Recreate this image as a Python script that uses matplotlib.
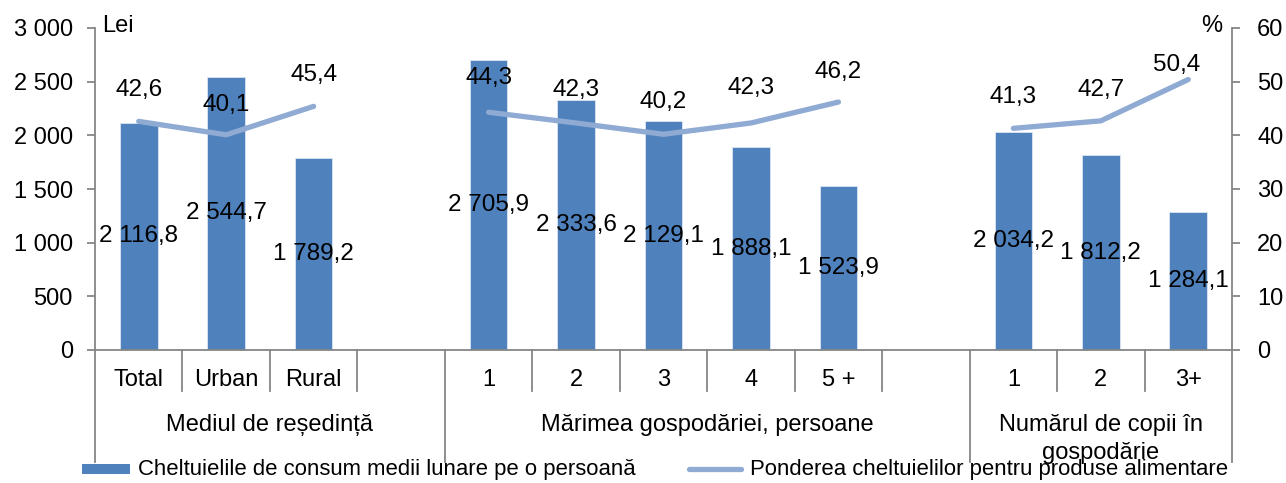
import numpy as np
import matplotlib
matplotlib.use("Agg")
import matplotlib.pyplot as plt
from matplotlib.patches import Rectangle
from matplotlib.lines import Line2D
from matplotlib.transforms import blended_transform_factory

plt.rcParams['font.family'] = ['Liberation Sans', 'DejaVu Sans']

# ---- data ----
categories = ["Total", "Urban", "Rural", "", "1", "2", "3", "4", "5 +", "", "1", "2", "3+"]
spending = [2116.8, 2544.7, 1789.2, None, 2705.9, 2333.6, 2129.1, 1888.1, 1523.9, None, 2034.2, 1812.2, 1284.1]
food_share = [42.6, 40.1, 45.4, None, 44.3, 42.3, 40.2, 42.3, 46.2, None, 41.3, 42.7, 50.4]
groups = ["Mediul de reședință", "Mărimea gospodăriei, persoane", "Numărul de copii în\ngospodărie"]
group_spans = [(0, 3), (4, 9), (10, 12)]
left_ticks = [0, 500, 1000, 1500, 2000, 2500, 3000]
right_ticks = [0, 10, 20, 30, 40, 50, 60]
legend_labels = ["Cheltuielile de consum medii lunare pe o persoană",
                 "Ponderea cheltuielilor pentru produse alimentare"]

BAR = "#4F81BD"
LINE = "#8FAAD3"
GREY = "#868686"
FS = 17
FS_LAB = 17.5
FS_LEG = 15.9

def fmt(v, dec=1):
    s = f"{v:,.{dec}f}"
    return s.replace(",", " ").replace(".", ",")

W, H = 1286, 483
fig = plt.figure(figsize=(W / 100, H / 100), dpi=100)
x0, x1, y0, y1 = 95, 1232, 350, 28
ax = fig.add_axes([x0 / W, 1 - y0 / H, (x1 - x0) / W, (y0 - y1) / H])
ax2 = ax.twinx()

n = len(categories)
x = np.arange(n)
sp = np.array([np.nan if v is None else v for v in spending])
sh = np.array([np.nan if v is None else v for v in food_share])

ax.bar(x, sp, width=0.43, color=BAR, edgecolor="#DCE6F2", linewidth=0.6, zorder=2)
ax2.plot(x, sh, color=LINE, lw=3.8, solid_capstyle="round", zorder=3)

ax.set_xlim(-0.5, n - 0.5)
ax.set_ylim(0, 3000)
ax2.set_ylim(0, 60)

for a in (ax, ax2):
    a.spines["top"].set_visible(False)
    a.spines["bottom"].set_visible(False)
ax.spines["right"].set_visible(False)
ax2.spines["left"].set_visible(False)
ax.spines["left"].set_color(GREY)
ax2.spines["right"].set_color(GREY)
ax.spines["left"].set_linewidth(1.3)
ax2.spines["right"].set_linewidth(1.3)

ax.set_yticks(left_ticks)
ax.set_yticklabels([fmt(t, 0) for t in left_ticks], fontsize=FS)
ax2.set_yticks(right_ticks)
ax2.set_yticklabels([str(t) for t in right_ticks], fontsize=FS)
ax.tick_params(axis="y", length=6, width=1.3, color=GREY, pad=10)
ax2.tick_params(axis="y", length=6, width=1.3, color=GREY, pad=12)
ax.set_xticks([])
ax2.set_xticks([])

# bottom axis line
ax.axhline(0, color=GREY, lw=1.3, zorder=4, clip_on=False)

# category separators
trans = blended_transform_factory(ax.transData, ax.transAxes)
axh = y0 - y1
group_bounds = {-0.5, 3.5, 9.5, n - 0.5}
for b in np.arange(-0.5, n, 1.0):
    depth = 112 if b in group_bounds else 41
    ax.add_line(Line2D([b, b], [0, -depth / axh], transform=trans, color=GREY,
                       lw=1.3, clip_on=False))

# category labels
for xi, c in zip(x, categories):
    if c:
        ax.text(xi, -30 / axh, c, transform=trans, ha="center", va="center", fontsize=FS)

# group labels
for (a, b), g in zip(group_spans, groups):
    ax.text((a + b) / 2, -64 / axh, g, transform=trans, ha="center", va="top",
            fontsize=FS, linespacing=1.35)

# bar value labels
for xi, v in zip(x, sp):
    if not np.isnan(v):
        ax.text(xi, v / 2, fmt(v), ha="center", va="center", fontsize=FS_LAB, zorder=5)

# line value labels
lab_off = [31, 30, 31, 0, 34, 33, 32, 35, 30, 0, 31, 31, 15]
lab_dx = [0, 0, 0, 0, 0, 0, 0, 0, 0, 0, 0, 0, -12]
for xi, v, dy, dx in zip(x, sh, lab_off, lab_dx):
    if not np.isnan(v):
        ax2.annotate(fmt(v), (xi, v), xytext=(dx * 0.72, dy * 0.72), textcoords="offset points",
                     ha="center", va="center", fontsize=FS_LAB, zorder=5)

# unit labels
fig.text(102 / W, 1 - 26 / H, "Lei", ha="left", va="center", fontsize=FS)
fig.text(1222 / W, 1 - 26 / H, "%", ha="right", va="center", fontsize=FS)

# legend
fig.patches.append(Rectangle((82 / W, 1 - 474 / H), 48 / W, 10 / H, transform=fig.transFigure,
                             facecolor=BAR, edgecolor="none"))
fig.text(138 / W, 1 - 470 / H, legend_labels[0], ha="left", va="center", fontsize=FS_LEG)
fig.lines.append(Line2D([689 / W, 741 / W], [1 - 469 / H, 1 - 469 / H], transform=fig.transFigure,
                        color=LINE, lw=3.8, solid_capstyle="round"))
fig.text(750 / W, 1 - 470 / H, legend_labels[1], ha="left", va="center", fontsize=FS_LEG)

fig.savefig("out.png", dpi=100)
